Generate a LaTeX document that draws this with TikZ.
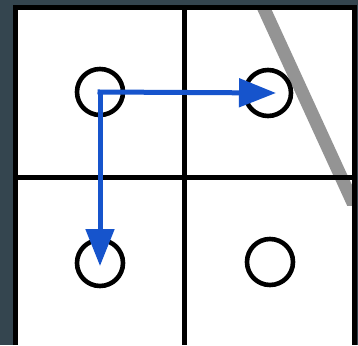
\documentclass[tikz,border=0pt]{standalone}
\usetikzlibrary{arrows.meta}
\definecolor{bgdark}{RGB}{52,69,79}
\definecolor{arrblue}{RGB}{22,84,204}
\tikzset{
  cellline/.style={line width=5pt, black},
  dot/.style={circle, draw=black, line width=4.6pt, minimum size=46pt, inner sep=0pt},
  arr/.style={line width=5pt, arrblue, line cap=rect, -{Triangle[length=37pt,width=28pt]}},
  shadow/.style={line width=13pt, black!42, line cap=butt}
}
\begin{document}
\begin{tikzpicture}[x=1pt,y=-1pt]
\useasboundingbox (0,0) rectangle (358,345);
\fill[bgdark] (0,0) rectangle (358,345);
\fill[white] (13,5) rectangle (357,345);
% grey diagonal stroke
\begin{scope}
\clip (186,9) rectangle (352,205);
\draw[shadow] (260,0) -- (354,205);
\end{scope}
% grid lines
\draw[cellline] (15.5,345) -- (15.5,7.5) -- (354.5,7.5) -- (354.5,345);
\draw[cellline] (184.5,7.5) -- (184.5,345);
\draw[cellline] (15.5,177.5) -- (354.5,177.5);
% circles
\node[dot] (tl) at (100,92) {};
\node[dot] (tr) at (268,93) {};
\node[dot] (bl) at (100,263) {};
\node[dot] (br) at (270,262) {};
% arrows
\coordinate (start) at (tl.center);
\draw[arr] (start) -- ([xshift=8pt]tr.center);
\draw[arr] (start) -- ([yshift=-3pt]bl.center);
\end{tikzpicture}
\end{document}
